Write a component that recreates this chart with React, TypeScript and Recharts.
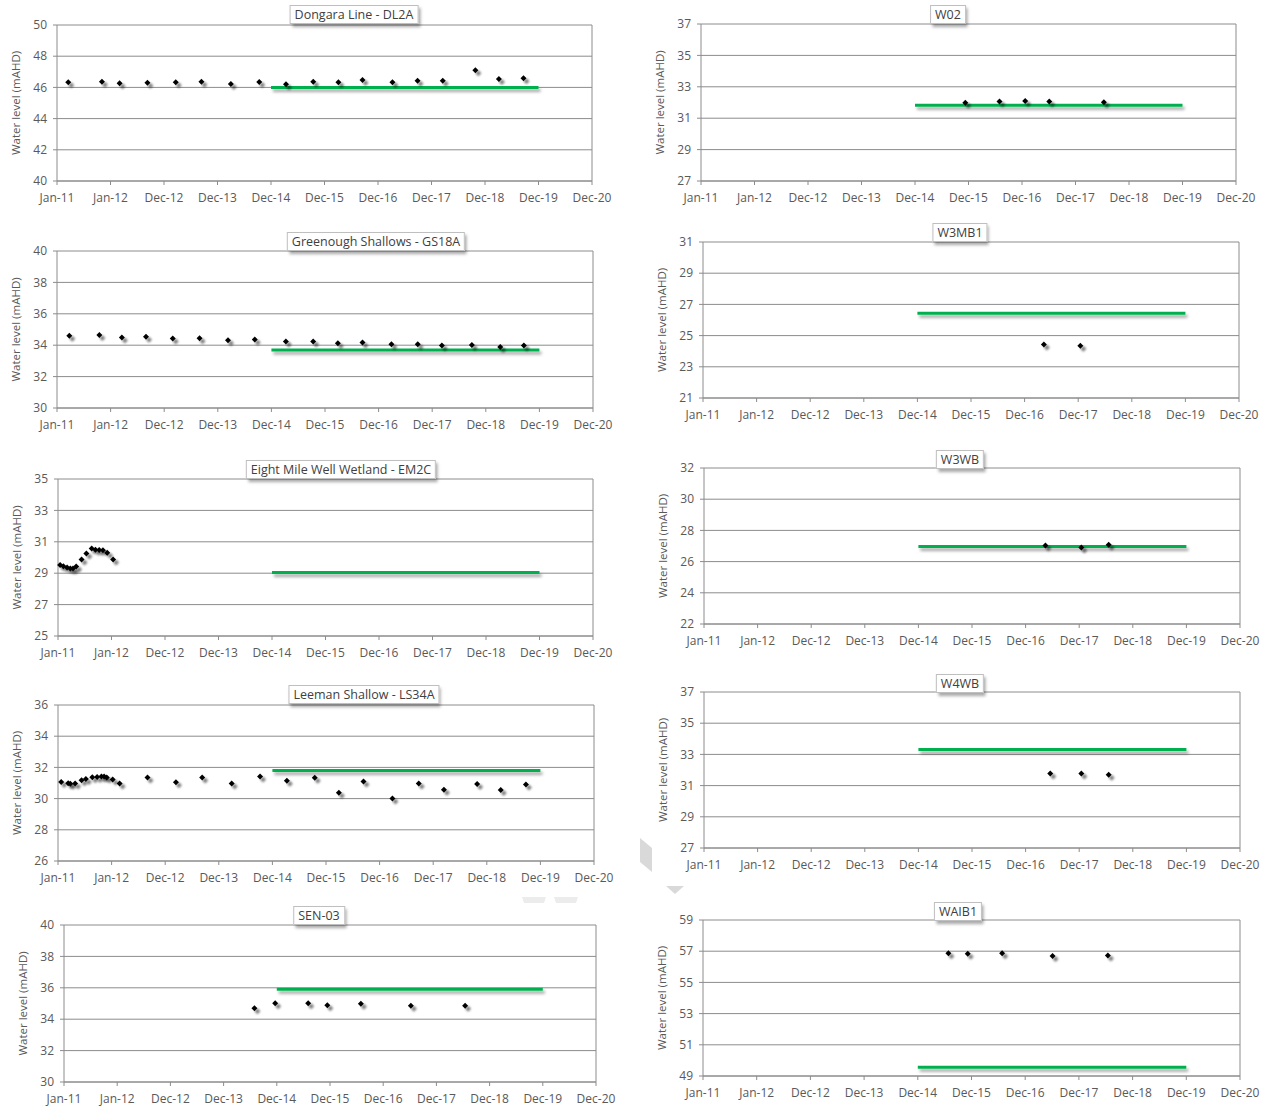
import { ScatterChart, Scatter, XAxis, YAxis, CartesianGrid, ReferenceLine } from "recharts";

const xTicks = [2011, 2012, 2013, 2014, 2015, 2016, 2017, 2018, 2019, 2020, 2021];
const xTickLabels = ["Jan-11", "Jan-12", "Dec-12", "Dec-13", "Dec-14", "Dec-15", "Dec-16", "Dec-17", "Dec-18", "Dec-19", "Dec-20"];
const triggerPeriod = [2015, 2020];

type Pt = [number, number];

const dl2aLevels: Pt[] = [
  [2011.21, 46.33], [2011.84, 46.37], [2012.17, 46.26], [2012.69, 46.3], [2013.22, 46.33],
  [2013.7, 46.37], [2014.25, 46.22], [2014.78, 46.35], [2015.28, 46.2], [2015.79, 46.37],
  [2016.26, 46.33], [2016.71, 46.48], [2017.27, 46.33], [2017.74, 46.43], [2018.21, 46.43],
  [2018.82, 47.1], [2019.26, 46.54], [2019.72, 46.59],
];
const gs18aLevels: Pt[] = [
  [2011.23, 34.6], [2011.79, 34.65], [2012.21, 34.49], [2012.66, 34.54], [2013.16, 34.43],
  [2013.66, 34.45], [2014.19, 34.32], [2014.69, 34.37], [2015.27, 34.24], [2015.78, 34.24],
  [2016.24, 34.13], [2016.7, 34.17], [2017.24, 34.06], [2017.73, 34.06], [2018.18, 33.98],
  [2018.74, 34.02], [2019.27, 33.89], [2019.71, 33.98],
];
const em2cLevels: Pt[] = [
  [2011.04, 29.52], [2011.1, 29.45], [2011.17, 29.37], [2011.23, 29.3], [2011.28, 29.3],
  [2011.34, 29.43], [2011.44, 29.88], [2011.53, 30.25], [2011.63, 30.57], [2011.7, 30.5],
  [2011.77, 30.48], [2011.84, 30.46], [2011.92, 30.31], [2012.03, 29.88],
];
const ls34aLevels: Pt[] = [
  [2011.06, 31.07], [2011.19, 30.99], [2011.23, 30.95], [2011.32, 30.97], [2011.44, 31.18],
  [2011.52, 31.26], [2011.64, 31.37], [2011.73, 31.39], [2011.81, 31.41], [2011.86, 31.41],
  [2011.91, 31.35], [2012.02, 31.22], [2012.15, 30.97], [2012.67, 31.35], [2013.2, 31.05],
  [2013.69, 31.35], [2014.24, 30.97], [2014.77, 31.41], [2015.27, 31.14], [2015.79, 31.33],
  [2016.24, 30.38], [2016.7, 31.1], [2017.24, 30.0], [2017.73, 30.97], [2018.2, 30.57],
  [2018.82, 30.93], [2019.26, 30.55], [2019.73, 30.9],
];
const sen03Levels: Pt[] = [
  [2014.58, 34.7], [2014.97, 35.02], [2015.59, 35.02], [2015.95, 34.89], [2016.58, 34.98],
  [2017.52, 34.85], [2018.54, 34.85],
];
const w02Levels: Pt[] = [
  [2015.94, 31.98], [2016.58, 32.06], [2017.06, 32.1], [2017.51, 32.06], [2018.53, 32.02],
];
const w3mb1Levels: Pt[] = [[2017.36, 24.43], [2018.04, 24.35]];
const w3wbLevels: Pt[] = [[2017.37, 27.03], [2018.04, 26.9], [2018.55, 27.08]];
const w4wbLevels: Pt[] = [[2017.46, 31.77], [2018.04, 31.77], [2018.55, 31.69]];
const waib1Levels: Pt[] = [
  [2015.57, 56.87], [2015.93, 56.83], [2016.57, 56.87], [2017.51, 56.7], [2018.54, 56.72],
];

const GRID = "#8c8c8c";
const TEXT = "#595959";
const GREEN = "#00b050";
const FONT = "'Open Sans', sans-serif";

function range(a: number, b: number, step: number) {
  const out: number[] = [];
  for (let v = a; v <= b + 1e-9; v += step) out.push(v);
  return out;
}

function diamond(x: number, y: number) {
  return `M${x},${y - 3}L${x + 3},${y}L${x},${y + 3}L${x - 3},${y}Z`;
}

function Marker(props: any) {
  const { cx, cy } = props;
  if (cx == null || cy == null) return <g />;
  return (
    <g>
      <path d={diamond(cx + 3, cy + 3)} fill="#000" opacity={0.5} filter="url(#markShadow)" />
      <path d={diamond(cx, cy)} fill="#000" />
    </g>
  );
}

const NoShape = () => <g />;

interface PanelProps {
  title: string;
  levels: Pt[];
  trigger: number;
  yMin: number;
  yMax: number;
  plot: [number, number, number, number]; // left, top, right, bottom
  titleX: number;
  titleTop: number;
}

function Panel({ title, levels, trigger, yMin, yMax, plot, titleX, titleTop }: PanelProps) {
  const [pl, pt, pr, pb] = plot;
  const width = pr - pl + 70;
  const height = pb - pt + 55;
  const pts = levels.map(([x, y]) => ({ x, y }));
  const trig = triggerPeriod.map((x) => ({ x, y: trigger }));
  return (
    <>
      <div style={{ position: "absolute", left: pl - 50, top: pt - 25 }}>
        <ScatterChart width={width} height={height} margin={{ top: 25, right: 20, bottom: 5, left: 10 }}>
          <CartesianGrid vertical={false} stroke={GRID} />
          <XAxis
            type="number"
            dataKey="x"
            domain={[2011, 2021]}
            ticks={xTicks}
            interval={0}
            tickFormatter={(v: number) => xTickLabels[Math.round(v) - 2011]}
            height={25}
            tickSize={4}
            tickMargin={8}
            stroke={GRID}
            tick={{ fill: TEXT, fontSize: 12, fontFamily: FONT }}
          />
          <YAxis
            type="number"
            dataKey="y"
            domain={[yMin, yMax]}
            ticks={range(yMin, yMax, 2)}
            interval={0}
            width={40}
            tickSize={4}
            tickMargin={6}
            stroke={GRID}
            tick={{ fill: TEXT, fontSize: 12, fontFamily: FONT }}
            label={{
              value: "Water level (mAHD)",
              angle: -90,
              position: "insideLeft",
              offset: -1,
              style: { textAnchor: "middle", fill: TEXT, fontSize: 11.5, fontFamily: FONT },
            }}
          />
          <ReferenceLine x={2021} stroke={GRID} ifOverflow="visible" />
          <Scatter
            data={trig}
            shape={NoShape}
            line={{ stroke: GREEN, strokeWidth: 3, filter: "url(#lineShadow)" }}
            isAnimationActive={false}
          />
          <Scatter data={pts} shape={Marker} isAnimationActive={false} />
        </ScatterChart>
      </div>
      <div
        style={{
          position: "absolute",
          left: titleX,
          top: titleTop,
          transform: "translateX(-50%)",
          background: "#fff",
          border: "1px solid #bfbfbf",
          boxShadow: "2px 3px 3px rgba(0,0,0,0.35)",
          padding: "0 4px",
          fontFamily: FONT,
          fontSize: 12.5,
          lineHeight: "17px",
          color: "#404040",
          whiteSpace: "nowrap",
        }}
      >
        {title}
      </div>
    </>
  );
}

export default function App() {
  return (
    <div style={{ position: "absolute", left: 0, top: 0, width: 1270, height: 1110, background: "#fff", overflow: "hidden" }}>
      <svg width={0} height={0} style={{ position: "absolute" }}>
        <defs>
          <filter id="markShadow" filterUnits="userSpaceOnUse" x={-100} y={-100} width={2000} height={2000}>
            <feGaussianBlur stdDeviation={1.2} />
          </filter>
          <filter id="lineShadow" filterUnits="userSpaceOnUse" x={-100} y={-100} width={2000} height={2000}>
            <feDropShadow dx={2} dy={3} stdDeviation={1.5} floodColor="#000" floodOpacity={0.35} />
          </filter>
        </defs>
      </svg>

      <Panel title="Dongara Line - DL2A" levels={dl2aLevels} trigger={46.0} yMin={40} yMax={50} plot={[57, 25, 592, 181]} titleX={354} titleTop={5} />
      <Panel title="Greenough Shallows - GS18A" levels={gs18aLevels} trigger={33.7} yMin={30} yMax={40} plot={[57, 251, 593, 408]} titleX={376} titleTop={232} />
      <Panel title="Eight Mile Well Wetland - EM2C" levels={em2cLevels} trigger={29.05} yMin={25} yMax={35} plot={[58, 479, 593, 636]} titleX={341} titleTop={460} />
      <Panel title="Leeman Shallow - LS34A" levels={ls34aLevels} trigger={31.8} yMin={26} yMax={36} plot={[58, 705, 594, 861]} titleX={364} titleTop={685} />
      <Panel title="SEN-03" levels={sen03Levels} trigger={35.9} yMin={30} yMax={40} plot={[64, 925, 596, 1082]} titleX={319} titleTop={906} />

      <Panel title="W02" levels={w02Levels} trigger={31.83} yMin={27} yMax={37} plot={[701, 24, 1236, 181]} titleX={948} titleTop={5} />
      <Panel title="W3MB1" levels={w3mb1Levels} trigger={26.43} yMin={21} yMax={31} plot={[703, 242, 1239, 398]} titleX={960} titleTop={223} />
      <Panel title="W3WB" levels={w3wbLevels} trigger={26.97} yMin={22} yMax={32} plot={[704, 468, 1240, 624]} titleX={960} titleTop={450} />
      <Panel title="W4WB" levels={w4wbLevels} trigger={33.32} yMin={27} yMax={37} plot={[704, 692, 1240, 848]} titleX={960} titleTop={674} />
      <Panel title="WAIB1" levels={waib1Levels} trigger={49.56} yMin={49} yMax={59} plot={[703, 920, 1240, 1076]} titleX={958} titleTop={902} />

      <svg width={1270} height={1110} style={{ position: "absolute", left: 0, top: 0, pointerEvents: "none" }}>
        <polygon points="640,838 652,848 652,872 640,862" fill="#d9d9d9" />
        <polygon points="666,886 684,886 675,894" fill="#d9d9d9" />
        <polygon points="522,897 546,897 544,903 524,903" fill="#ececec" />
        <polygon points="554,897 578,897 576,903 556,903" fill="#ececec" />
      </svg>
    </div>
  );
}
